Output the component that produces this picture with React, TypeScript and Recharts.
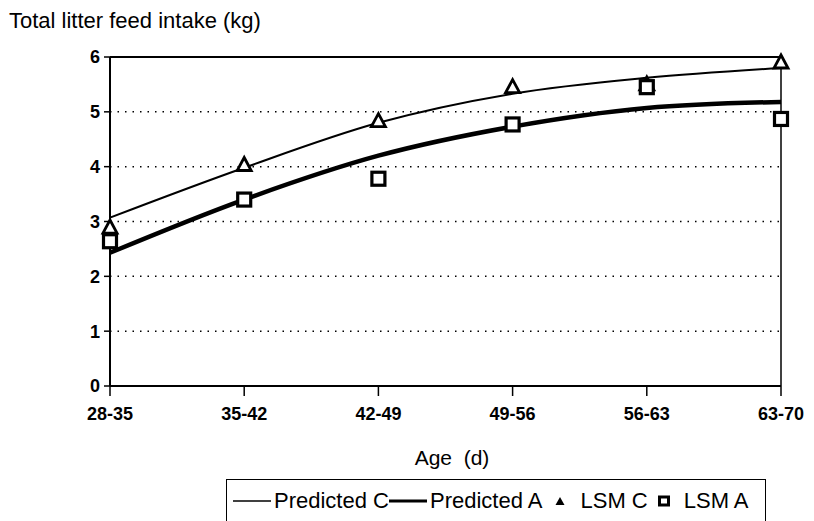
import React from 'react';
import { LineChart, Line, XAxis, YAxis, CartesianGrid, ReferenceLine } from 'recharts';

const ageClasses = ['28-35', '35-42', '42-49', '49-56', '56-63', '63-70'];
const predictedC = [3.07, 3.98, 4.8, 5.33, 5.62, 5.8];
const predictedA = [2.43, 3.4, 4.2, 4.73, 5.07, 5.18];
const lsmC = [2.89, 4.03, 4.83, 5.45, 5.5, 5.9];
const lsmA = [2.64, 3.4, 3.78, 4.77, 5.45, 4.87];
const yTicks = [0, 1, 2, 3, 4, 5, 6];

const FONT = "'Liberation Sans', Arial, sans-serif";

const chartData = ageClasses.map((age, i) => ({
  age,
  predC: predictedC[i],
  predA: predictedA[i],
  lsmC: lsmC[i],
  lsmA: lsmA[i],
}));

const TriangleDot = (props: any) => {
  const { cx, cy, index } = props;
  if (cx == null || cy == null) return null;
  return (
    <path
      key={`tri-${index}`}
      d={`M${cx},${cy - 7.5} L${cx + 7},${cy + 5.5} L${cx - 7},${cy + 5.5} Z`}
      fill="#fff"
      stroke="#000"
      strokeWidth={2.8}
    />
  );
};

const SquareDot = (props: any) => {
  const { cx, cy, index } = props;
  if (cx == null || cy == null) return null;
  return (
    <rect
      key={`sq-${index}`}
      x={cx - 6.5}
      y={cy - 6.5}
      width={13}
      height={13}
      fill="#fff"
      stroke="#000"
      strokeWidth={3.2}
    />
  );
};

// x tick: mark crossing the axis plus bold label
const AgeTick = (props: any) => {
  const { x, y, payload } = props;
  return (
    <g>
      <line x1={x} y1={y - 21} x2={x} y2={y - 11} stroke="#000" strokeWidth={1.5} />
      <text
        x={x}
        y={y}
        dy="0.71em"
        textAnchor="middle"
        fill="#000"
        fontFamily={FONT}
        fontSize={18}
        fontWeight="bold"
      >
        {payload.value}
      </text>
    </g>
  );
};

const LegendBox = () => {
  const item: React.CSSProperties = { display: 'flex', alignItems: 'center' };
  return (
    <div
      style={{
        position: 'absolute',
        left: 226,
        top: 479,
        width: 540,
        height: 60,
        border: '1.5px solid #000',
        boxSizing: 'border-box',
        fontFamily: FONT,
        fontSize: 22,
        color: '#000',
        display: 'flex',
        alignItems: 'flex-start',
        paddingTop: 8,
        paddingLeft: 6,
        whiteSpace: 'nowrap',
      }}
    >
      <div style={item}>
        <svg width={38} height={12}>
          <line x1={0} y1={6} x2={38} y2={6} stroke="#000" strokeWidth={1.5} />
        </svg>
        <span style={{ marginLeft: 3 }}>Predicted C</span>
      </div>
      <div style={item}>
        <svg width={38} height={12}>
          <line x1={0} y1={6} x2={38} y2={6} stroke="#000" strokeWidth={3} />
        </svg>
        <span style={{ marginLeft: 3 }}>Predicted A</span>
      </div>
      <div style={{ ...item, marginLeft: 12 }}>
        <svg width={12} height={12}>
          <path d="M6,2 L10.5,10 L1.5,10 Z" fill="#000" />
        </svg>
        <span style={{ marginLeft: 14 }}>LSM C</span>
      </div>
      <div style={{ ...item, marginLeft: 10 }}>
        <svg width={12} height={12}>
          <rect x={1.5} y={2} width={9} height={8} fill="#fff" stroke="#000" strokeWidth={3} />
        </svg>
        <span style={{ marginLeft: 14 }}>LSM A</span>
      </div>
    </div>
  );
};

export default function App() {
  return (
    <div style={{ position: 'absolute', left: 0, top: 0, width: 814, height: 521, background: '#fff', overflow: 'hidden' }}>
      <div
        style={{
          position: 'absolute',
          left: 9,
          top: 8,
          fontFamily: FONT,
          fontSize: 22,
          color: '#000',
          whiteSpace: 'nowrap',
        }}
      >
        Total litter feed intake (kg)
      </div>
      <LineChart
        width={814}
        height={521}
        data={chartData}
        margin={{ top: 57, right: 33, bottom: 105, left: 0 }}
      >
        <CartesianGrid vertical={false} stroke="#000" strokeWidth={1.5} strokeDasharray="1.5 6" />
        <XAxis
          dataKey="age"
          padding={{ left: 0, right: 0 }}
          axisLine={{ stroke: '#000', strokeWidth: 2 }}
          tickLine={false}
          tickSize={6}
          tickMargin={15}
          tick={<AgeTick />}
          interval={0}
        />
        <YAxis
          domain={[0, 6]}
          ticks={yTicks}
          width={110}
          axisLine={{ stroke: '#000', strokeWidth: 2 }}
          tickLine={{ stroke: '#000', strokeWidth: 1.5 }}
          tickSize={6}
          tickMargin={4}
          tick={{ fill: '#000', fontFamily: FONT, fontSize: 18, fontWeight: 'bold' }}
        />
        <ReferenceLine y={6} stroke="#000" strokeWidth={2} />
        <ReferenceLine x="63-70" stroke="#000" strokeWidth={1.5} />
        <Line
          type="monotone"
          dataKey="predC"
          name="Predicted C"
          stroke="#000"
          strokeWidth={2}
          dot={false}
          isAnimationActive={false}
        />
        <Line
          type="monotone"
          dataKey="predA"
          name="Predicted A"
          stroke="#000"
          strokeWidth={4.5}
          dot={false}
          isAnimationActive={false}
        />
        <Line
          dataKey="lsmC"
          name="LSM C"
          stroke="none"
          dot={<TriangleDot />}
          activeDot={false}
          isAnimationActive={false}
        />
        <Line
          dataKey="lsmA"
          name="LSM A"
          stroke="none"
          dot={<SquareDot />}
          activeDot={false}
          isAnimationActive={false}
        />
      </LineChart>
      <div
        style={{
          position: 'absolute',
          left: 111,
          width: 670,
          top: 446,
          textAlign: 'center',
          fontFamily: FONT,
          fontSize: 21,
          color: '#000',
          whiteSpace: 'pre',
          paddingLeft: 12,
          boxSizing: 'border-box',
        }}
      >
        Age  (d)
      </div>
      <LegendBox />
    </div>
  );
}
